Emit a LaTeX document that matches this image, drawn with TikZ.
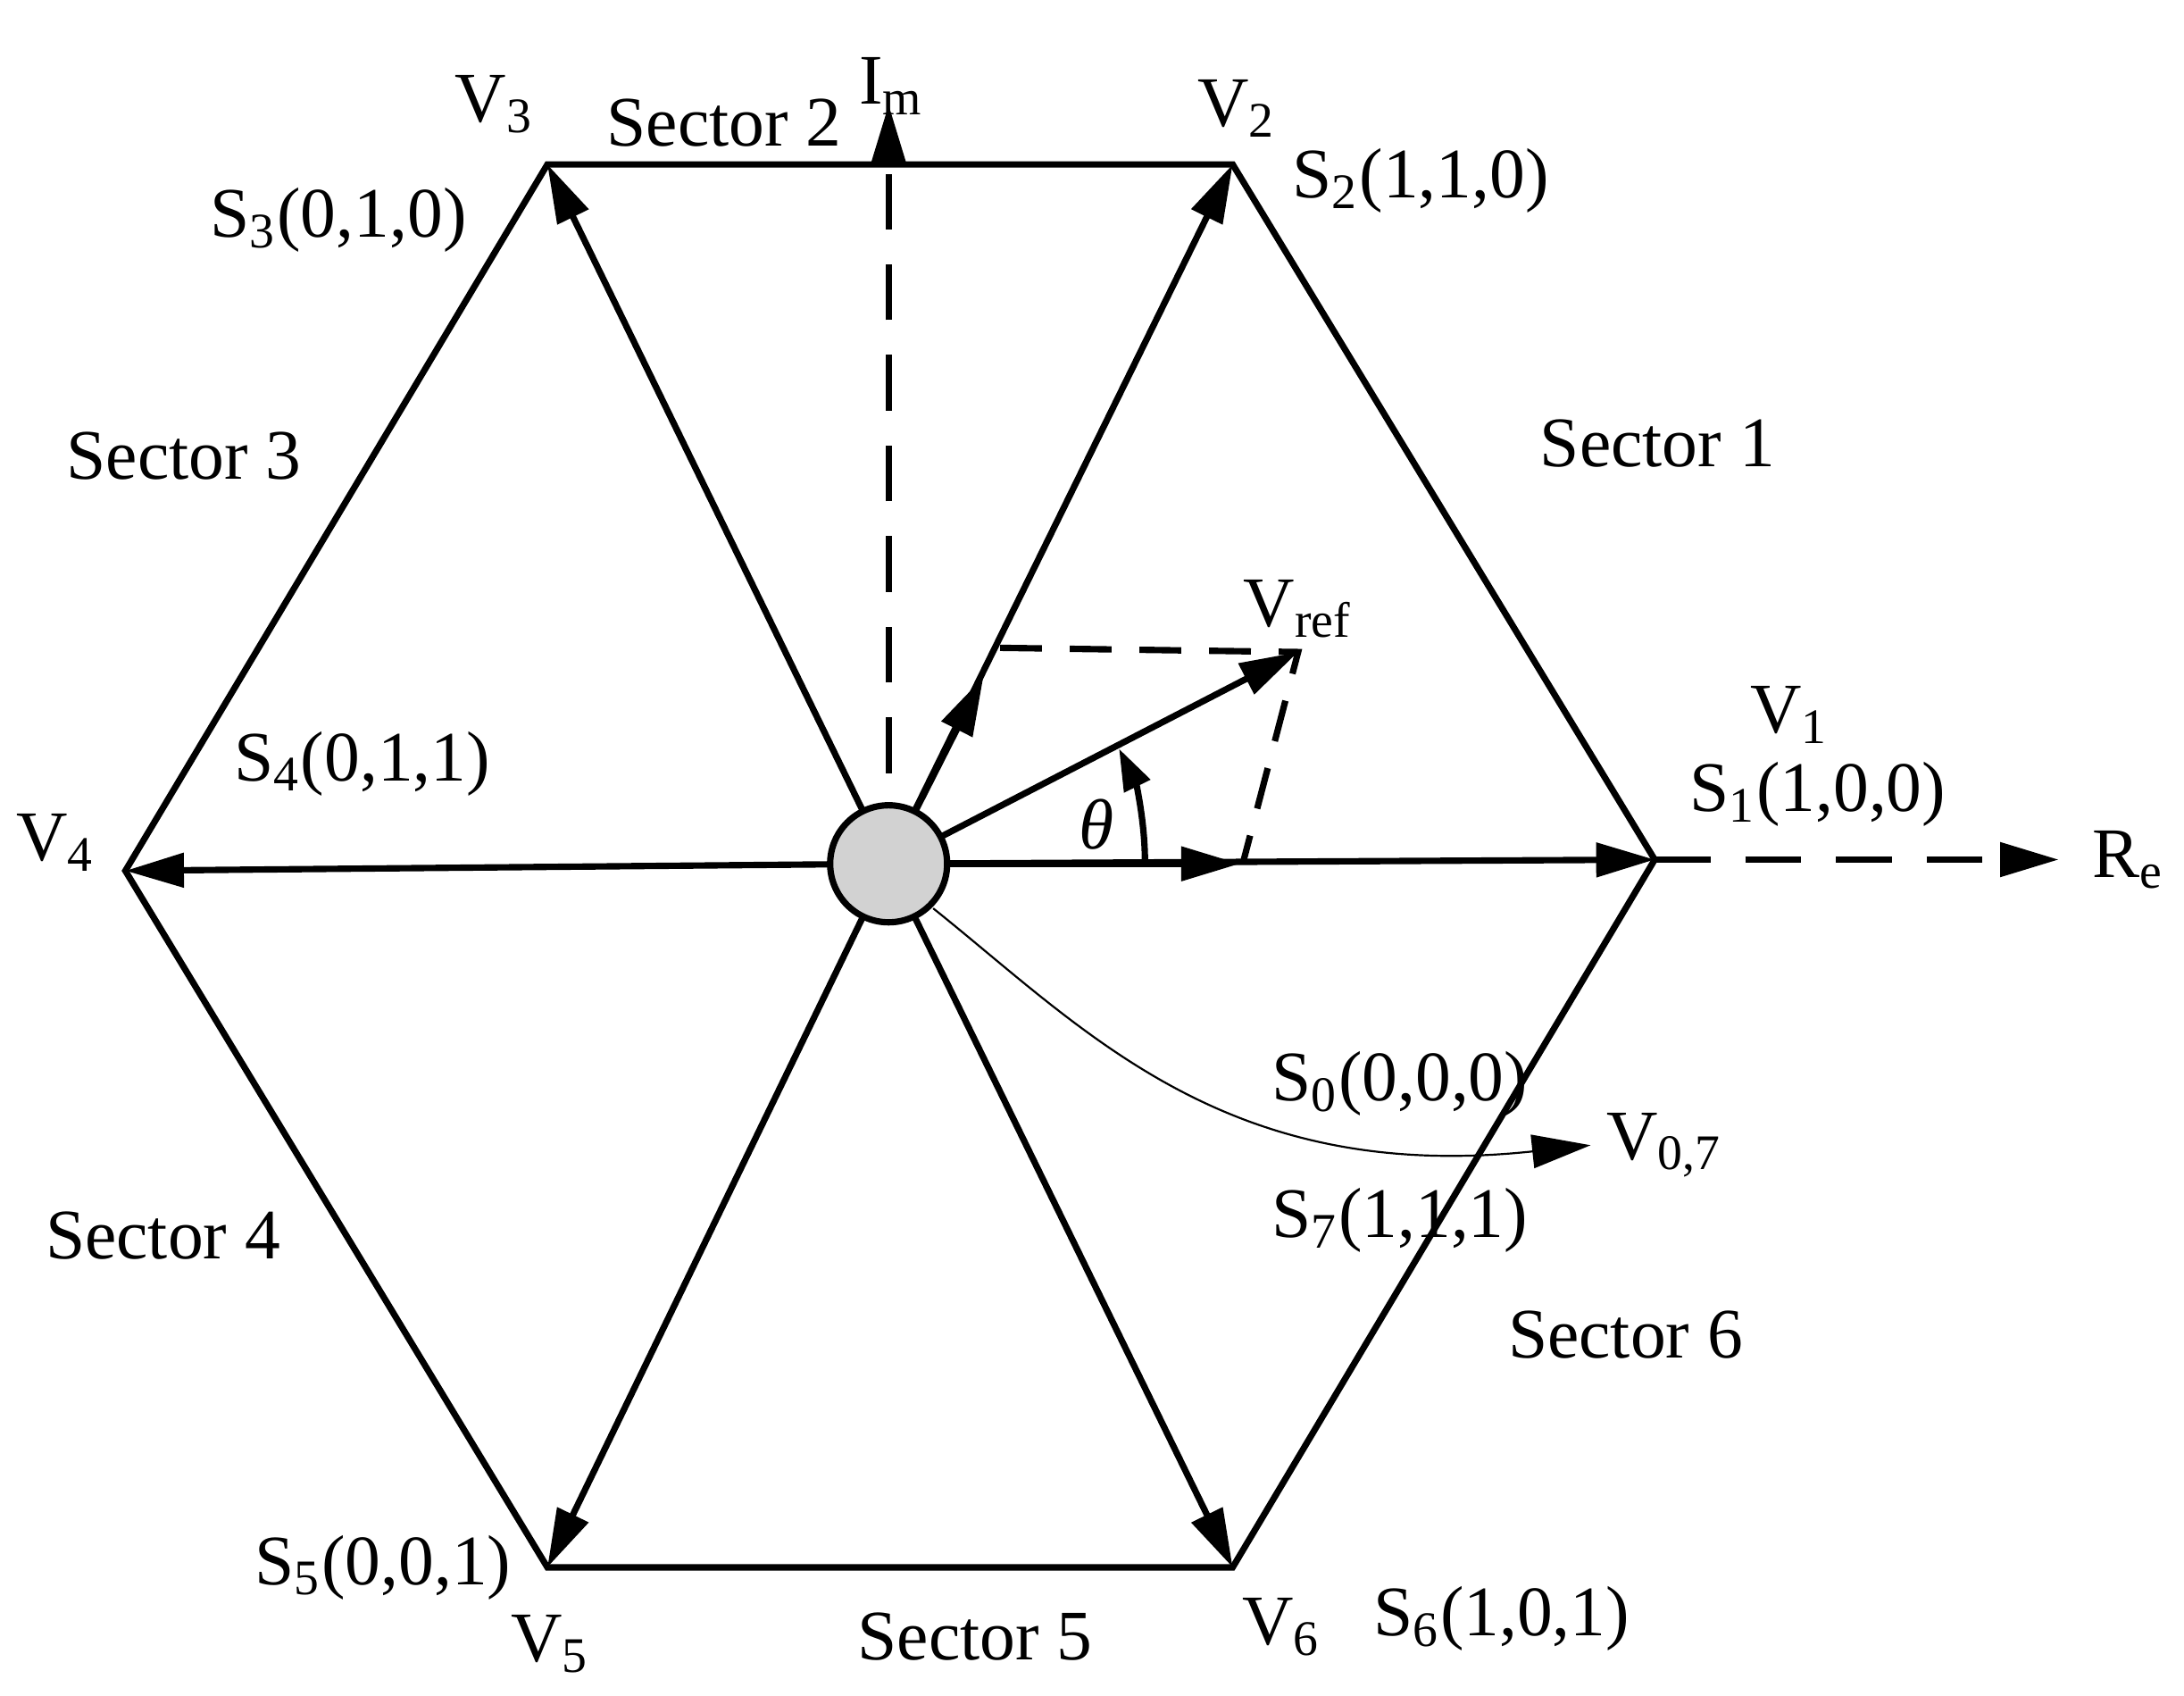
\documentclass[tikz,border=0pt]{standalone}
\usepackage{fontspec}
\setmainfont{Liberation Serif}
\usetikzlibrary{arrows.meta}
\newcommand{\lsub}[1]{\textsubscript{#1}}
\tikzset{
  lbl/.style={font=\fontsize{14.5}{16}\selectfont, inner sep=0pt},
  vec/.style={line width=1.3pt, -{Triangle[length=0.42cm,width=0.24cm]}},
  hexa/.style={line width=1.3pt, line join=miter},
  axis/.style={line width=1.3pt, dash pattern=on 0.4cm off 0.25cm, -{Triangle[length=0.42cm,width=0.24cm]}}
}
\begin{document}
\begin{tikzpicture}[x=0.01cm,y=-0.01cm]
	\useasboundingbox (0,0) rectangle (1568,1217);
	% Ecken
	\coordinate (O) at (638,620);
	\coordinate (v1) at (1188,617);
	\coordinate (v2) at (885,118);
	\coordinate (v3) at (393,118);
	\coordinate (v4) at (90,625);
	\coordinate (v5) at (393,1125);
	\coordinate (v6) at (885,1125);
	\coordinate (im) at (638,75);
	\coordinate (re) at (1478,617);
	\coordinate (a1) at (890,620);
	\coordinate (a2) at (706,486);
	\coordinate (ref) at (932,468);
	\coordinate (v07) at (1142,822);
	% Sechseck
	\draw[hexa] (v1) -- (v2) -- (v3) -- (v4) -- (v5) -- (v6) -- cycle;
	% Achsen
	\draw[axis] (O) -- (im);
	\draw[axis] (v1) -- (re);
	% Basisvektoren
	\foreach \v in {v1,v2,v3,v4,v5,v6}
		\draw[vec] (O) -- (\v);
	% Komponenten
	\draw[vec] (O) -- (a1);
	\draw[vec] (O) -- (a2);
	\draw[line width=1.3pt, dash pattern=on 0.3cm off 0.2cm] (718,465) -- (ref) -- (893,617);
	\draw[vec] (O) -- (ref);
	% theta
	\draw[line width=1.3pt, -{Triangle[length=0.3cm,width=0.2cm]}] (822,618) arc[start angle=0, end angle=-26, radius=184];
	% Nullvektor
	\draw[thin, -{Triangle[length=0.42cm,width=0.24cm]}] (670,652) .. controls (780,740) and (880,850) .. (v07);
	\draw[line width=1.3pt, fill=gray!35] (O) circle (42);
	% Beschriftung
	\node[lbl] at (355,75) {V\lsub{3}};
	\node[lbl] at (520,88) {Sector 2};
	\node[lbl] at (640,62) {I\lsub{m}};
	\node[lbl] at (888,78) {V\lsub{2}};
	\node[lbl] at (1020,130) {S\lsub{2}(1,1,0)};
	\node[lbl] at (243,158) {S\lsub{3}(0,1,0)};
	\node[lbl] at (1190,318) {Sector 1};
	\node[lbl] at (132,327) {Sector 3};
	\node[lbl] at (932,437) {V\lsub{ref}};
	\node[lbl] at (1285,513) {V\lsub{1}};
	\node[lbl] at (1305,570) {S\lsub{1}(1,0,0)};
	\node[lbl] at (260,548) {S\lsub{4}(0,1,1)};
	\node[lbl] at (40,605) {V\lsub{4}};
	\node[lbl] at (787,592) {\textit{θ}};
	\node[lbl] at (1528,617) {R\lsub{e}};
	\node[lbl] at (1005,778) {S\lsub{0}(0,0,0)};
	\node[lbl] at (1195,822) {V\lsub{0,7}};
	\node[lbl] at (1005,876) {S\lsub{7}(1,1,1)};
	\node[lbl] at (117,887) {Sector 4};
	\node[lbl] at (1167,958) {Sector 6};
	\node[lbl] at (275,1125) {S\lsub{5}(0,0,1)};
	\node[lbl] at (395,1180) {V\lsub{5}};
	\node[lbl] at (700,1175) {Sector 5};
	\node[lbl] at (920,1168) {V\lsub{6}};
	\node[lbl] at (1078,1162) {S\lsub{6}(1,0,1)};
\end{tikzpicture}
\end{document}
